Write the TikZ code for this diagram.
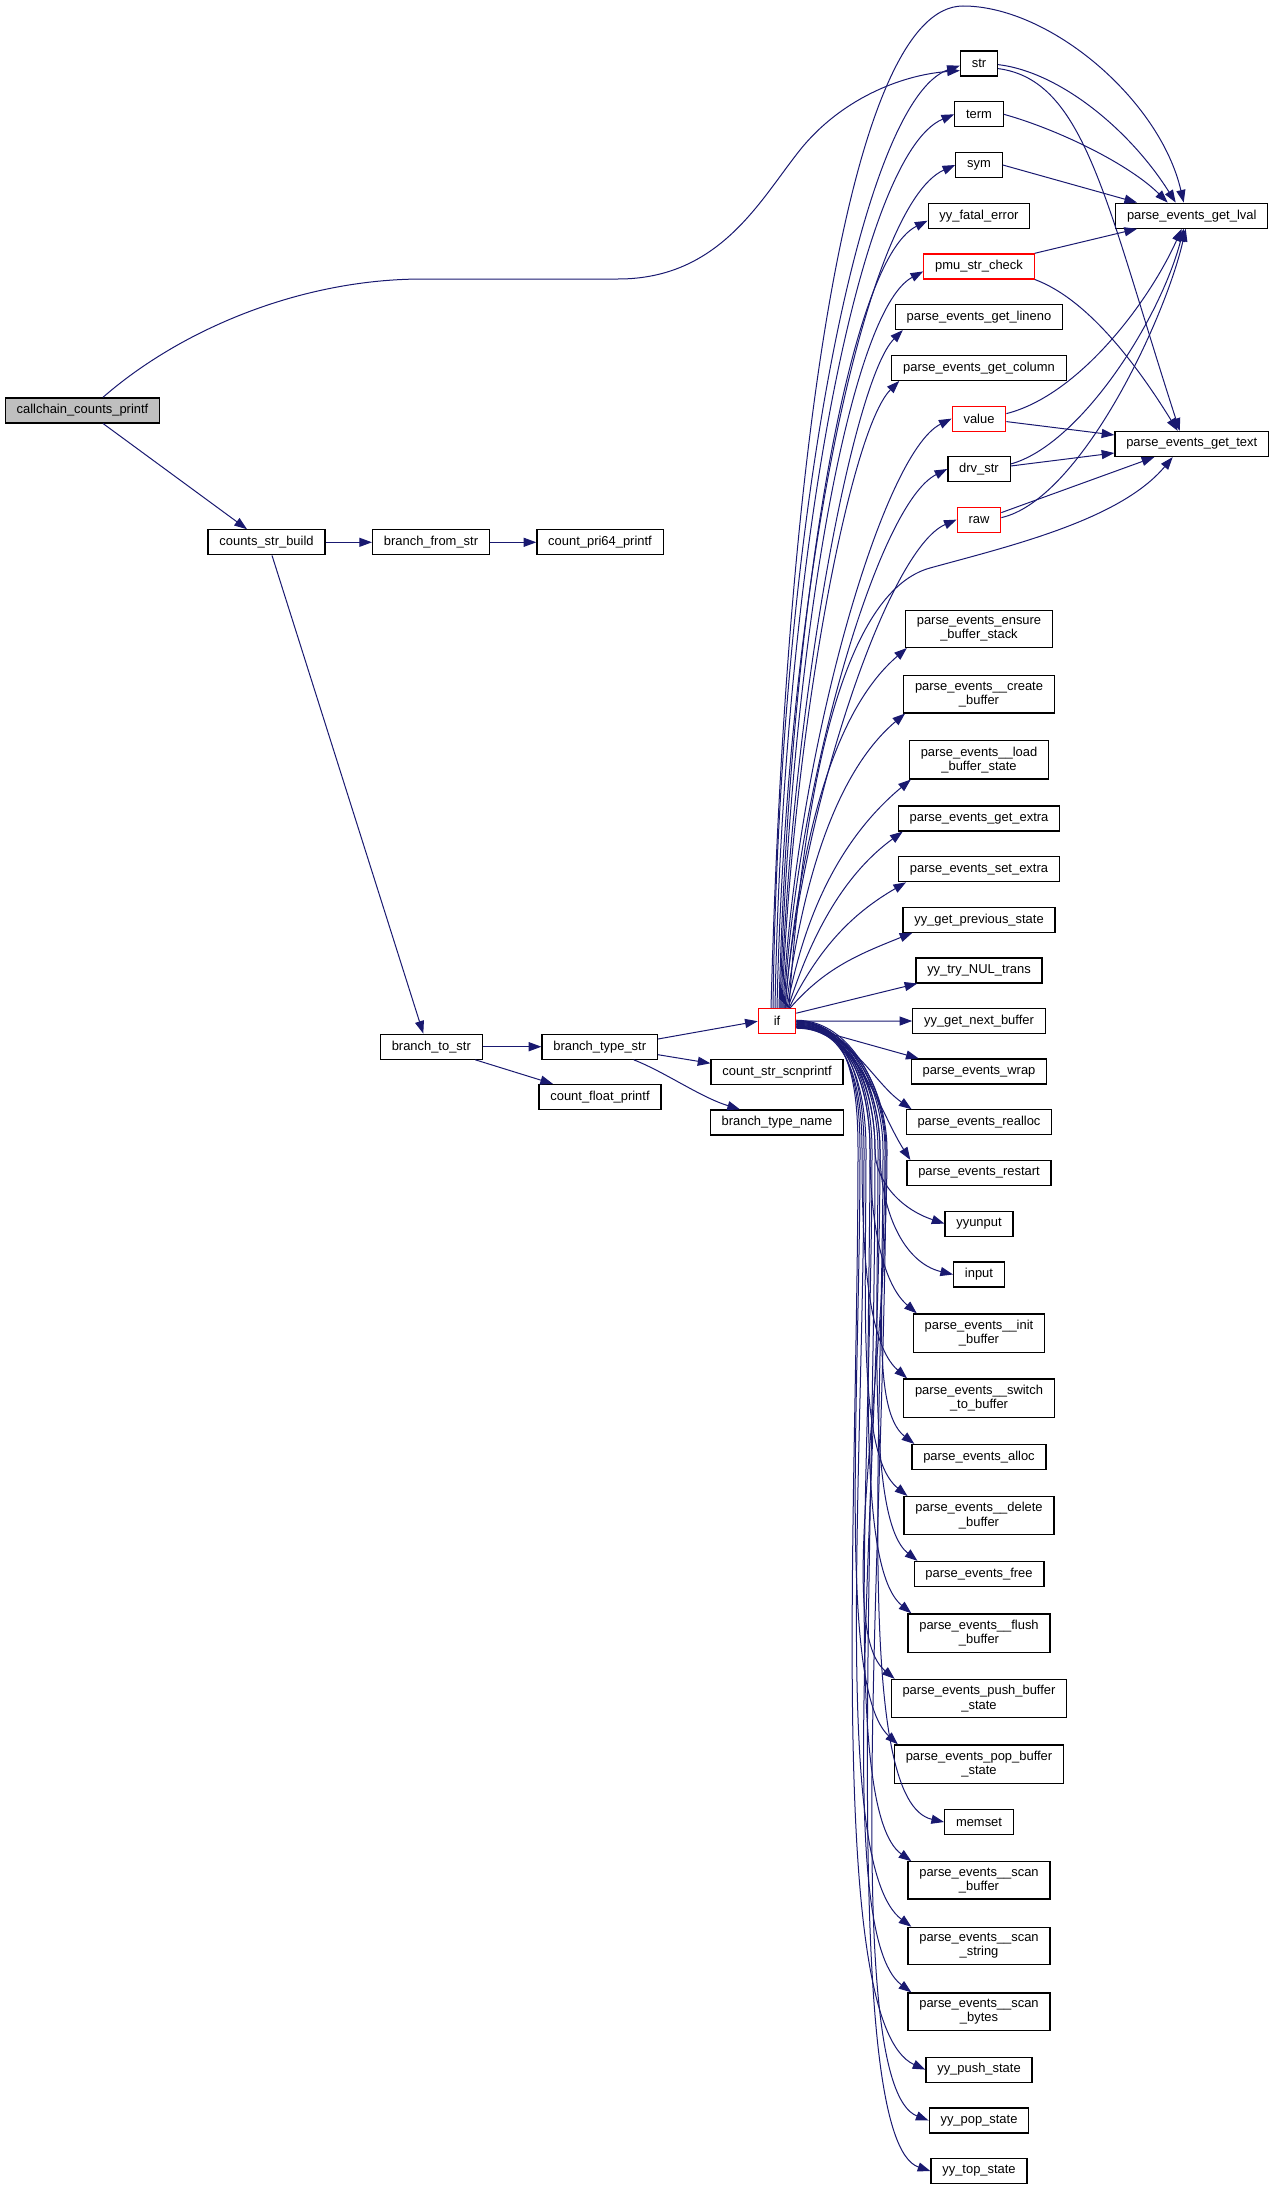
\documentclass[tikz,border=0pt]{standalone}
\usepackage{fontspec}
\setmainfont{Liberation Sans}
\usetikzlibrary{arrows.meta,calc}
\definecolor{edgeblue}{RGB}{25,25,112}
\definecolor{rootgray}{RGB}{191,191,191}
\newcommand\ifup[4]{\draw[edge] ($(ifn.north)+(#1,0)$) .. controls +(#2) and +(#3) .. (#4);}
\newcommand\iflow[4]{\draw[edge] ($(ifn.east)+(0,#1)$) .. controls +(#2) and +(#3) .. (#4);}
\newcommand\ifdown[6]{\draw[edge] ($(ifn.east)+(0,#1)$) .. controls +(55,0) and (#2,1090) .. (#2,1150) .. controls (#2,1150+#3) and +(#4,#5) .. (#6);}
\begin{document}
\begin{tikzpicture}[x=0.75pt,y=-0.75pt,
  box/.style={draw=black,line width=0.9pt,fill=white,font=\fontsize{9.7}{10.7}\selectfont,inner xsep=8.5pt,inner ysep=4.5pt,minimum height=18.75pt,align=center},
  redbox/.style={box,draw=red},
  rootbox/.style={box,fill=rootgray},
  edge/.style={draw=edgeblue,line width=0.75pt,-{Triangle[length=9.5pt,width=6.8pt]}}]
\useasboundingbox (0,0) rectangle (1275,2191);

% left part
\node[rootbox] (callchain) at (82.5,410.4) {callchain\_counts\_printf};
\node[box] (csb) at (266.5,542.3) {counts\_str\_build};
\node[box] (bfs) at (431,542.3) {branch\_from\_str};
\node[box] (cpp) at (600,542.3) {count\_pri64\_printf};
\node[box] (bts) at (431.3,1046.7) {branch\_to\_str};
\node[box] (btys) at (599.7,1046.7) {branch\_type\_str};
\node[box] (cfp) at (600,1097) {count\_float\_printf};
\node[redbox,minimum width=28pt] (ifn) at (777,1021.2) {if};
\node[box] (cssp) at (777,1071.8) {count\_str\_scnprintf};
\node[box] (btn) at (777,1122.5) {branch\_type\_name};

% right column
\node[box] (str) at (979,63.6) {str};
\node[box] (term) at (979,114.3) {term};
\node[box] (sym) at (979,165) {sym};
\node[box] (fatal) at (979,215.7) {yy\_fatal\_error};
\node[redbox] (pmu) at (979,266.4) {pmu\_str\_check};
\node[box] (lineno) at (979,317) {parse\_events\_get\_lineno};
\node[box] (column) at (979,367.9) {parse\_events\_get\_column};
\node[redbox] (value) at (979,418.6) {value};
\node[box] (drv) at (979,469) {drv\_str};
\node[redbox] (raw) at (979,519.6) {raw};
\node[box] (ensure) at (979,628.8) {parse\_events\_ensure\\\_buffer\_stack};
\node[box] (create) at (979,694.3) {parse\_events\_\_create\\\_buffer};
\node[box] (load) at (979,759.8) {parse\_events\_\_load\\\_buffer\_state};
\node[box] (getextra) at (979,818.5) {parse\_events\_get\_extra};
\node[box] (setextra) at (979,869.2) {parse\_events\_set\_extra};
\node[box] (prevstate) at (979,919.7) {yy\_get\_previous\_state};
\node[box] (nul) at (979,970.4) {yy\_try\_NUL\_trans};
\node[box] (nextbuf) at (979,1021) {yy\_get\_next\_buffer};
\node[box] (wrap) at (979,1071.5) {parse\_events\_wrap};
\node[box] (realloc) at (979,1122.3) {parse\_events\_realloc};
\node[box] (restart) at (979,1173) {parse\_events\_restart};
\node[box] (yyunput) at (979,1223.6) {yyunput};
\node[box] (input) at (979,1274.5) {input};
\node[box] (init) at (979,1333) {parse\_events\_\_init\\\_buffer};
\node[box] (switch) at (979,1398) {parse\_events\_\_switch\\\_to\_buffer};
\node[box] (alloc) at (979,1457) {parse\_events\_alloc};
\node[box] (delete) at (979,1515.6) {parse\_events\_\_delete\\\_buffer};
\node[box] (free) at (979,1574) {parse\_events\_free};
\node[box] (flush) at (979,1633) {parse\_events\_\_flush\\\_buffer};
\node[box] (pushbuf) at (979,1698.5) {parse\_events\_push\_buffer\\\_state};
\node[box] (popbuf) at (979,1764) {parse\_events\_pop\_buffer\\\_state};
\node[box] (memset) at (979,1822) {memset};
\node[box] (scanbuf) at (979,1880.4) {parse\_events\_\_scan\\\_buffer};
\node[box] (scanstr) at (979,1946) {parse\_events\_\_scan\\\_string};
\node[box] (scanbytes) at (979,2011.6) {parse\_events\_\_scan\\\_bytes};
\node[box] (yypush) at (979,2069.6) {yy\_push\_state};
\node[box] (yypop) at (979,2120.5) {yy\_pop\_state};
\node[box] (yytop) at (979,2171) {yy\_top\_state};

\node[box] (lval) at (1191.7,215.7) {parse\_events\_get\_lval};
\node[box] (text) at (1191.7,444) {parse\_events\_get\_text};

% left edges
\draw[edge] ($(callchain.north)+(20.5,0)$) .. controls (180,330) and (300,279) .. (423,279) -- (618,279)
  .. controls (720,279) and (760,200) .. (800,150) .. controls (840,100) and (900,75) .. ($(str.west)+(0,7)$);
\draw[edge] ($(callchain.south)+(20.5,0)$) -- ($(csb.north)+(-19.5,0)$);
\draw[edge] (csb) -- (bfs);
\draw[edge] (bfs) -- (cpp);
\draw[edge] ($(csb.south)+(5.5,0)$) -- ($(bts.north)+(-8,0)$);
\draw[edge] (bts) -- (btys);
\draw[edge] ($(bts.south)+(44,0)$) -- ($(cfp.north)+(-47,0)$);
\draw[edge] ($(btys.east)+(0,-7.7)$) -- (ifn.west);
\draw[edge] ($(btys.east)+(0,8)$) -- ($(cssp.west)+(0,-8.5)$);
\draw[edge] ($(btys.south)+(34,0)$) .. controls (665,1072) and (700,1097) .. ($(btn.north)+(-37,0)$);

% if -> upper nodes
\draw[edge] ($(ifn.north)+(-6,0)$) .. controls (786,450) and (850,6) .. (963,6) .. controls (1050,6) and (1160,100) .. ($(lval.north)+(-8,0)$);
\draw[edge] ($(ifn.north)+(12,0)$) .. controls (805,760) and (850,590) .. (930,568) .. controls (1010,546) and (1120,520) .. ($(text.south)+(-19,0)$);
\ifup{-4}{6,-480}{-100,35}{$(str.west)+(0,2)$}
\ifup{-2}{8,-450}{-95,40}{term.west}
\ifup{0}{9,-420}{-90,40}{sym.west}
\ifup{2}{10,-390}{-80,40}{$(fatal.west)+(0,5)$}
\ifup{3}{10,-350}{-75,40}{$(pmu.west)+(0,5)$}
\ifup{4}{10,-300}{-50,50}{$(lineno.south west)+(8,0)$}
\ifup{5}{10,-270}{-50,50}{$(column.south west)+(8,0)$}
\ifup{6}{12,-250}{-70,35}{value.west}
\ifup{7}{12,-220}{-70,35}{drv.west}
\ifup{8}{14,-190}{-70,30}{raw.west}
\ifup{8}{15,-180}{-70,60}{$(ensure.south west)+(2,0)$}
\ifup{9}{18,-140}{-65,55}{$(create.south west)+(2,0)$}
\ifup{10}{20,-110}{-60,50}{$(load.south west)+(2,0)$}
\ifup{11}{25,-80}{-55,40}{$(getextra.south west)+(5,0)$}
\ifup{12}{30,-60}{-55,32}{$(setextra.south west)+(8,0)$}
\ifup{13}{35,-40}{-55,22}{$(prevstate.south west)+(10,0)$}
\draw[edge] ($(ifn.east)+(0,-8)$) -- ($(nul.south west)+(2,0)$);
\draw[edge] (ifn.east) -- (nextbuf.west);
\draw[edge] ($(ifn.east)+(0,3)$) -- ($(wrap.north west)+(8,0)$);

% if -> lower nodes
\iflow{5}{55,3}{-40,-28}{$(realloc.north west)+(6,0)$}
\iflow{6}{62,3}{-32,-50}{$(restart.north west)+(4,0)$}
\ifdown{6}{875}{30}{-45}{-15}{yyunput.west}
\ifdown{7}{880}{60}{-50}{-12}{input.west}
\ifdown{5}{870}{70}{-35}{-30}{$(init.north west)+(4,0)$}
\ifdown{6}{862}{100}{-40}{-35}{$(switch.north west)+(4,0)$}
\ifdown{4}{885}{130}{-45}{-35}{$(alloc.north west)+(3,0)$}
\ifdown{5}{866}{150}{-50}{-40}{$(delete.north west)+(4,0)$}
\ifdown{3}{878}{180}{-50}{-40}{$(free.north west)+(4,0)$}
\ifdown{4}{870}{200}{-55}{-45}{$(flush.north west)+(4,0)$}
\ifdown{2}{887}{230}{-60}{-50}{$(pushbuf.north west)+(4,0)$}
\ifdown{3}{860}{250}{-60}{-55}{$(popbuf.north west)+(4,0)$}
\ifdown{1}{883}{280}{-90}{-20}{memset.west}
\ifdown{2}{872}{300}{-70}{-50}{$(scanbuf.north west)+(4,0)$}
\ifdown{0}{864}{320}{-80}{-60}{$(scanstr.north west)+(4,0)$}
\ifdown{1}{880}{340}{-80}{-60}{$(scanbytes.north west)+(4,0)$}
\ifdown{0}{858}{360}{-100}{-45}{yypush.west}
\ifdown{-1}{886}{380}{-90}{-35}{yypop.west}
\ifdown{0}{875}{400}{-90}{-30}{yytop.west}

% right column inter edges
\draw[edge] ($(str.east)+(0,1)$) .. controls (1060,72) and (1130,130) .. ($(lval.north)+(-16,0)$);
\draw[edge] ($(str.east)+(0,5)$) .. controls (1085,80) and (1105,200) .. ($(text.north)+(-12,0)$);
\draw[edge] (term.east) .. controls (1060,130) and (1130,165) .. ($(lval.north)+(-24,0)$);
\draw[edge] (sym.east) -- ($(lval.north west)+(22,0)$);
\draw[edge] (pmu.north east) -- ($(lval.south west)+(22,0)$);
\draw[edge] (pmu.south east) .. controls (1090,300) and (1140,370) .. ($(text.north)+(-14,0)$);
\draw[edge] ($(value.east)+(0,-5)$) .. controls (1080,395) and (1150,300) .. ($(lval.south)+(-10,0)$);
\draw[edge] ($(value.east)+(0,3)$) -- ($(text.west)+(0,-9)$);
\draw[edge] ($(drv.east)+(0,-5)$) .. controls (1080,445) and (1160,320) .. ($(lval.south)+(-8,0)$);
\draw[edge] ($(drv.east)+(0,-3)$) -- ($(text.west)+(0,9)$);
\draw[edge] ($(raw.east)+(0,-2)$) .. controls (1080,500) and (1165,320) .. ($(lval.south)+(-6,0)$);
\draw[edge] ($(raw.east)+(0,-7)$) -- ($(text.south west)+(40,0)$);
\end{tikzpicture}
\end{document}
